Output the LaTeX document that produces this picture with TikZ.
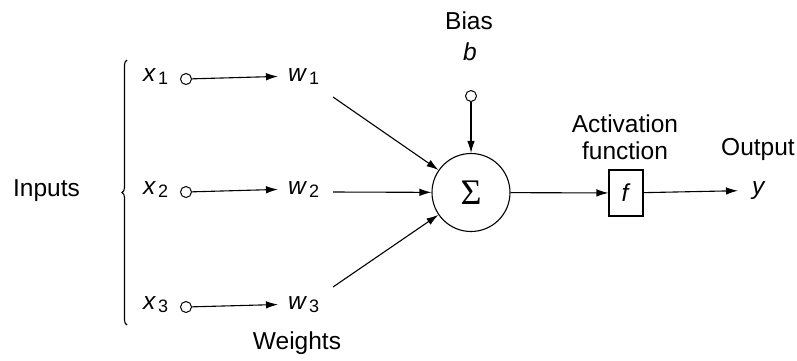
\documentclass[tikz,border=0pt]{standalone}
\usepackage{fontspec}
\setmainfont{Liberation Sans}
\newfontfamily\sigmafont{Liberation Serif}
\usetikzlibrary{arrows.meta,decorations.pathreplacing}
\newcommand{\varsub}[2]{\textit{#1}\kern2pt\raisebox{-2.5pt}{\fontsize{18}{20}\selectfont #2}}
\begin{document}
\begin{tikzpicture}[x=1pt,y=-1pt,
  lbl/.style={font=\fontsize{24.5}{28}\selectfont, inner sep=0pt},
  dot/.style={circle,draw,minimum size=11pt,inner sep=0pt,line width=1pt,fill=white},
  arr/.style={-{Latex[length=12pt,width=7.5pt]},line width=1.1pt},
  ln/.style={line width=1.1pt}]
\useasboundingbox (0,0) rectangle (797,360);
% inputs
\node[lbl] (inputs) at (46.5,191) {Inputs};
\coordinate (bb) at (127,325);
\coordinate (bt) at (127,60);
\draw[ln,decorate,decoration={brace,amplitude=5pt}] (bb) -- (bt);
% rows
\foreach \i/\yy in {1/79,2/192,3/307}{
  \node[lbl,anchor=mid west] (x\i) at (143,\yy) {\varsub{x}{\i}};
  \node[dot] (c\i) at (186,\yy) {};
  \node[lbl,anchor=mid west] (w\i) at (288,\yy) {\varsub{w}{\i}};
  \draw[arr] (c\i) -- ([xshift=-10pt]w\i.west);
}
% sum
\node[circle,draw,line width=1.1pt,minimum size=78pt,inner sep=0pt,font=\sigmafont\fontsize{36}{38}\selectfont] (sum) at (471,192.5) {Σ};
\coordinate (s1) at (333,97);
\coordinate (s2) at (333,192);
\coordinate (s3) at (333,287);
\draw[arr] (s1) -- (sum);
\draw[arr] (s2) -- (sum);
\draw[arr] (s3) -- (sum);
% bias
\node[lbl] (bias) at (469,21) {Bias};
\node[lbl,anchor=base] (b) at (470,60) {\textit{b}};
\node[dot] (cb) at (471,96) {};
\draw[arr] (cb) -- (sum);
% activation
\node[draw,line width=1.1pt,minimum width=34pt,minimum height=46pt,inner sep=0pt,font=\fontsize{24.5}{28}\selectfont] (f) at (626,193) {\textit{f}};
\node[lbl,align=center,font=\fontsize{24.5}{27}\selectfont] (act) at (625,137) {Activation\\function};
\draw[arr] (sum) -- (f);
\node[lbl,anchor=mid west] (y) at (752,192) {\textit{y}};
\draw[arr] (f) -- ([xshift=-14pt]y.west);
\node[lbl] (out) at (758,149) {Output};
\node[lbl] (weights) at (297,343) {Weights};
\end{tikzpicture}
\end{document}
